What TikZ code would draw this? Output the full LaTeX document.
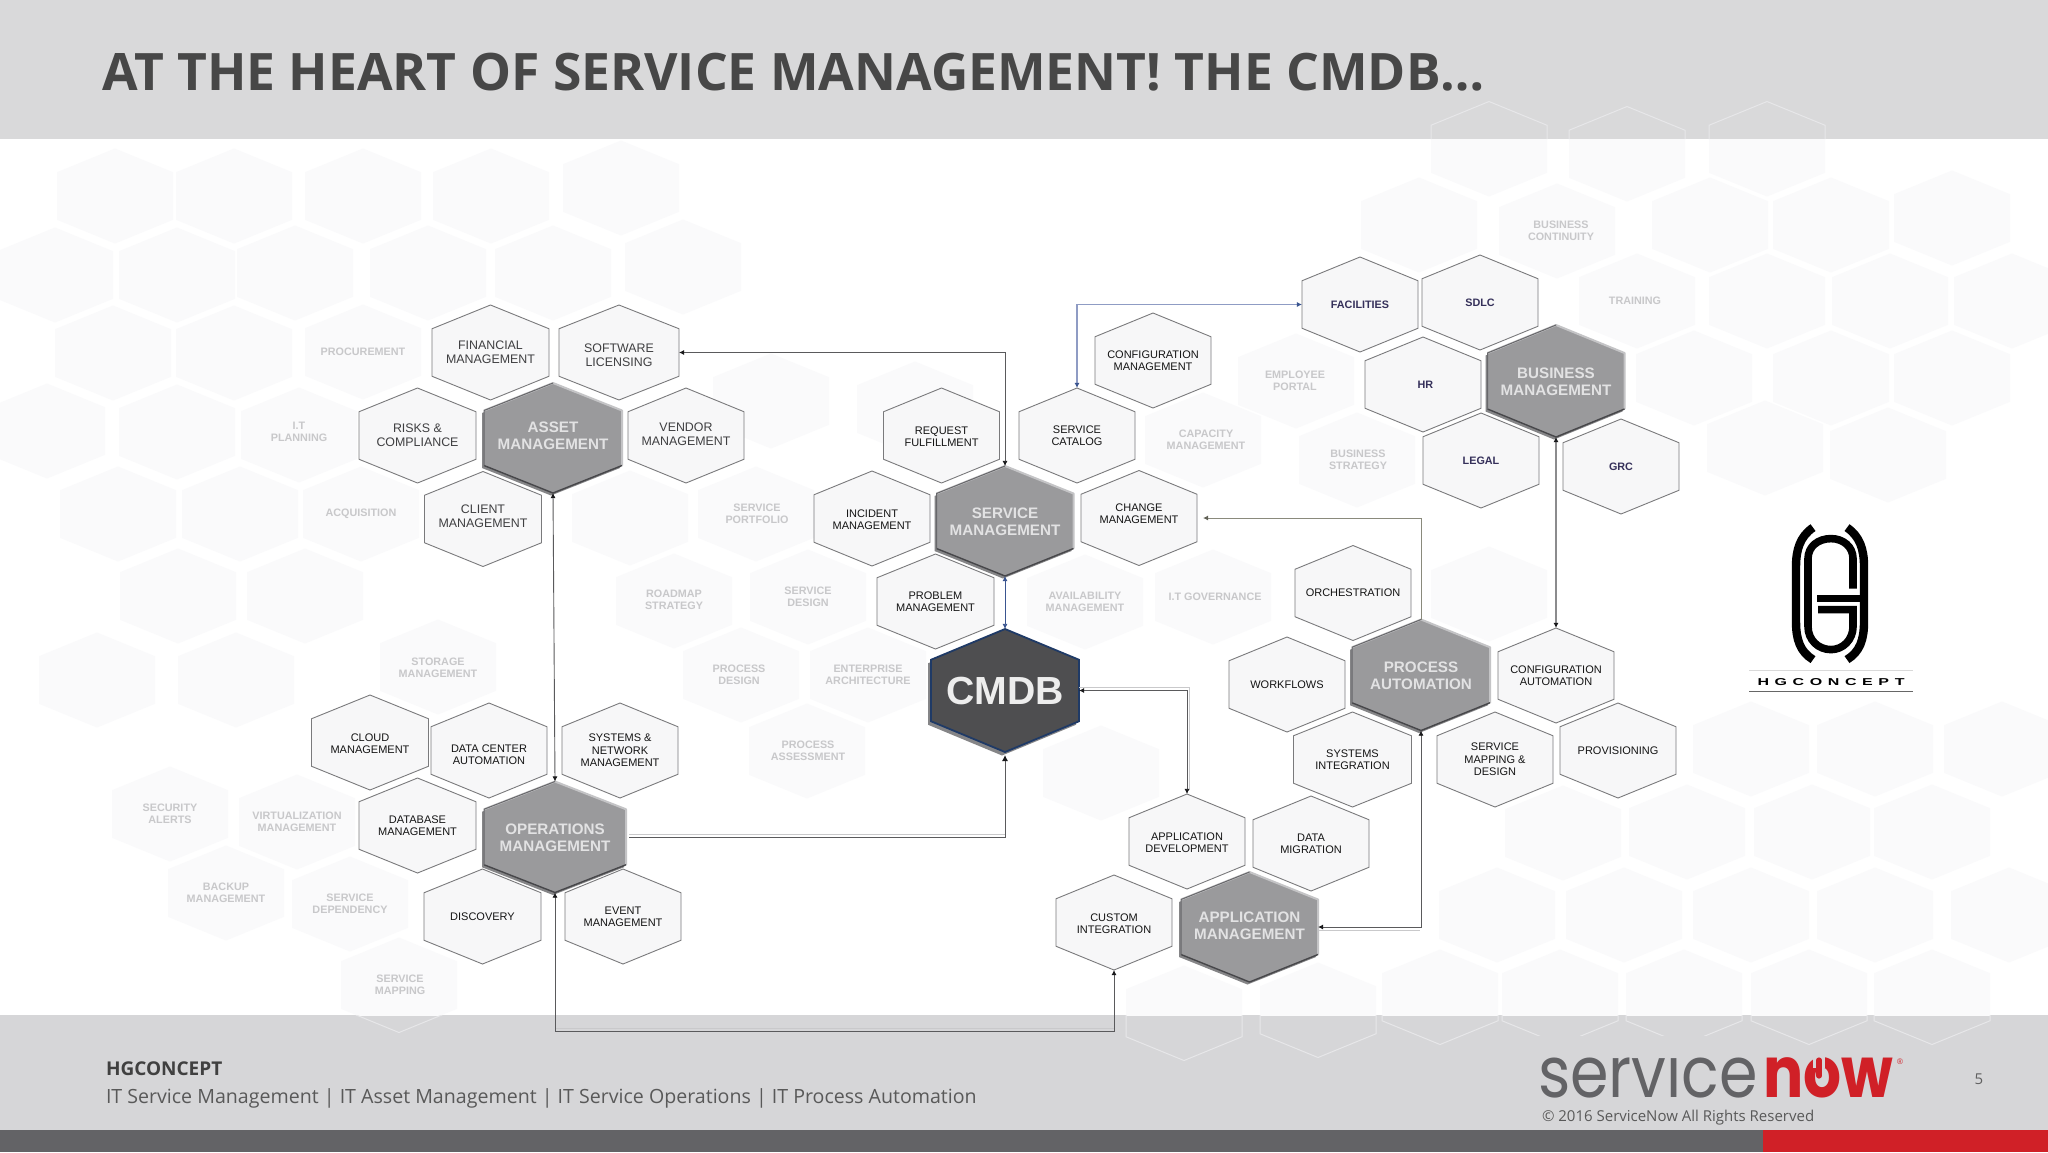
\documentclass[tikz,border=0pt]{standalone}
\usepackage{fontspec}
\setmainfont{Liberation Sans}
\newfontfamily\titlefont{Open Sans}
\newfontfamily\logofont{Poppins}
\usetikzlibrary{arrows.meta,calc}
\definecolor{bandc}{HTML}{D9D9DA}
\definecolor{footc}{HTML}{D6D6D8}
\definecolor{barc}{HTML}{636366}
\definecolor{redc}{HTML}{D02027}
\definecolor{bghex}{HTML}{FAFAFB}
\definecolor{bgline}{HTML}{E7E7E9}
\definecolor{bgtext}{HTML}{C8C8CA}
\definecolor{hexfill}{HTML}{F7F7F8}
\definecolor{hexline}{HTML}{7A7A7C}
\definecolor{hubfill}{HTML}{9A9A9C}
\definecolor{hublight}{HTML}{C4C4C6}
\definecolor{hubdark}{HTML}{47474A}
\definecolor{hubshadow}{HTML}{858587}
\definecolor{hubtext}{HTML}{E2E2E3}
\definecolor{cmdbfill}{HTML}{4E4E50}
\definecolor{cmdbline}{HTML}{1F3A66}
\definecolor{cmdbtext}{HTML}{EDEDED}
\definecolor{navytext}{HTML}{35305A}
\definecolor{asettext}{HTML}{3F3F41}
\definecolor{connc}{HTML}{5A5A5C}
\definecolor{tipc}{HTML}{1A1A1C}
\definecolor{ghostc}{HTML}{C9C9CB}
\definecolor{bluec}{HTML}{8F9CC4}
\definecolor{bluedark}{HTML}{3A5590}
\definecolor{olivec}{HTML}{8A8A7C}
\definecolor{logogray}{HTML}{636366}
\tikzset{
  x=0.5pt,y=-0.5pt,
  lblA/.style={text=asettext,font=\fontsize{6.2}{7.2}\selectfont},
  lblB/.style={text=black!92,font=\fontsize{5.5}{6.2}\selectfont},
  lblC/.style={text=navytext,font=\bfseries\fontsize{5.4}{6.2}\selectfont},
  lblBg/.style={text=bgtext,font=\bfseries\fontsize{5.4}{6.1}\selectfont,inner sep=0pt,align=center},
  lblHub/.style={text=hubtext,font=\bfseries\fontsize{7.6}{8.6}\selectfont},
  hexdraw/.style={fill=hexfill,draw=hexline,line width=0.45pt,line join=miter},
  conn/.style={draw=connc,line width=0.45pt,{Latex[length=2.6pt,width=2.6pt,color=tipc]}-{Latex[length=2.6pt,width=2.6pt,color=tipc]}},
  connone/.style={draw=connc,line width=0.45pt,-{Latex[length=3pt,width=3pt,color=tipc]}},
  connblue/.style={draw=bluec,line width=0.6pt,{Latex[length=2.6pt,width=2.6pt,color=bluedark]}-{Latex[length=2.6pt,width=2.6pt,color=bluedark]}},
  connbd/.style={draw=bluedark,line width=0.45pt,{Latex[length=2.6pt,width=2.6pt]}-{Latex[length=2.6pt,width=2.6pt]}},
  connolive/.style={draw=olivec,line width=0.5pt,-{Latex[length=2.6pt,width=2.6pt,color=olivec!70!black]}},
  ghost/.style={draw=ghostc,line width=0.5pt},
  textnode/.style={inner sep=0pt,outer sep=0pt},
}
\newcommand{\hexpath}[4]{({#1},{#2-#4/2}) -- ({#1+#3/2},{#2-#4/4}) -- ({#1+#3/2},{#2+#4/4}) -- ({#1},{#2+#4/2}) -- ({#1-#3/2},{#2+#4/4}) -- ({#1-#3/2},{#2-#4/4}) -- cycle}
% named hexagon: name,x,y,w,h,style,text,text offset down in px
\newcommand{\hexnode}[8][0]{%
  \path[hexdraw] \hexpath{#3}{#4}{#5}{#6};
  \node[inner sep=0pt,outer sep=0pt,minimum width=#5*0.5pt,minimum height=#6*0.5pt,#7] (#2) at (#3,#4) {};
  \node[inner sep=0pt,outer sep=0pt,align=center,#7] (#2text) at (#3,#4+#1) {#8};
}
% hub hexagon: name,x,y,w,h,text
\newcommand{\hubnode}[7][0.5]{%
  \path[fill=hubshadow] \hexpath{#3-2}{#4+2.5}{#5}{#6};
  \path[fill=hubfill] \hexpath{#3}{#4}{#5}{#6};
  \draw[hublight,line width=1pt,line join=round] ({#3-#5/2},{#4-#6/4}) -- ({#3},{#4-#6/2}) -- ({#3+#5/2},{#4-#6/4}) -- ({#3+#5/2},{#4+#6/4});
  \draw[hubdark,line width=0.7pt,line join=round] ({#3-#5/2},{#4+#6/4}) -- ({#3},{#4+#6/2}) -- ({#3+#5/2},{#4+#6/4});
  \draw[hubdark!60!hubfill,line width=0.5pt] ({#3-#5/2},{#4+#6/4}) -- ({#3-#5/2},{#4-#6/4}) -- ({#3},{#4-#6/2});
  \node[inner sep=0pt,outer sep=0pt,minimum width=#5*0.5pt,minimum height=#6*0.5pt] (#2) at (#3,#4) {};
  \node[inner sep=0pt,outer sep=0pt,align=center,lblHub] (#2text) at (#3,#4+#1) {#7};
}
\newcommand{\bglabel}[4]{\node[lblBg] (#1) at (#2,#3) {#4};}
\newcommand{\bglist}{115/196,234/196,363/196,491/196,621/188,
55/275,177/275,295/273,428/273,553/273,683/267,
113/353,234/353,363/352,771/401,915/409,
47/431,177/432,299/435,
118/514,240/514,361/514,630/518,756/514,
178/596,305/596,674/601,808/597,
97/680,236/680,438/667,741/675,868/675,807/751,
170/814,297/822,226/893,350/904,399/985,
1085/602,1213/597,1203/440,1296/381,1357/460,1101/773,1489/594,
1489/149,1627/154,1767/149,
1419/225,1557/231,1710/225,1831/225,1952/218,
1637/301,1767/301,1890/301,2012/301,
1694/378,1831/378,1952/378,
1765/448,1888/455,
1751/749,1875/749,2002/749,
1563/833,1687/832,1812/832,1932/832,
1497/915,1624/915,1751/915,1875/915,2009/915,
1184/1013,1318/1010,1440/997,1560/997,1684/997,1809/997,1932/997}
\begin{document}
\begin{tikzpicture}
\useasboundingbox (0,0) rectangle (2048,1152);
\fill[white] (0,0) rectangle (2048,1152);
\fill[bandc] (0,0) rectangle (2048,139);
\fill[footc] (0,1015) rectangle (2048,1130);
\fill[barc] (0,1130) rectangle (1763,1152);
\fill[redc] (1763,1130) rectangle (2048,1152);
% ---- background honeycomb
\begin{scope}
  \clip (0,139) rectangle (2048,1015);
  \foreach \hx/\hy in \bglist { \path[fill=bghex] \hexpath{\hx}{\hy}{116}{95}; }
\end{scope}
\begin{scope}
  \clip (0,0) rectangle (2048,139) (0,1015) rectangle (2048,1130);
  \foreach \hx/\hy in \bglist { \draw[bgline,line width=0.5pt] \hexpath{\hx}{\hy}{116}{95}; }
\end{scope}
% ---- background labels
\bglabel{bProc}{363}{352}{PROCUREMENT}
\bglabel{bITP}{299}{432}{I.T\\PLANNING}
\bglabel{bAcq}{361}{514}{ACQUISITION}
\bglabel{bPort}{757}{514}{SERVICE\\PORTFOLIO}
\bglabel{bRoad}{674}{600}{ROADMAP\\STRATEGY}
\bglabel{bSDes}{808}{597}{SERVICE\\DESIGN}
\bglabel{bPDes}{739}{675}{PROCESS\\DESIGN}
\bglabel{bEnt}{868}{675}{ENTERPRISE\\ARCHITECTURE}
\bglabel{bAss}{808}{751}{PROCESS\\ASSESSMENT}
\bglabel{bStor}{438}{668}{STORAGE\\MANAGEMENT}
\bglabel{bSec}{170}{814}{SECURITY\\ALERTS}
\bglabel{bVirt}{297}{822}{VIRTUALIZATION\\MANAGEMENT}
\bglabel{bBack}{226}{893}{BACKUP\\MANAGEMENT}
\bglabel{bDep}{350}{904}{SERVICE\\DEPENDENCY}
\bglabel{bMap}{400}{985}{SERVICE\\MAPPING}
\bglabel{bAvail}{1085}{602}{AVAILABILITY\\MANAGEMENT}
\bglabel{bGov}{1215}{597}{I.T GOVERNANCE}
\bglabel{bCap}{1206}{440}{CAPACITY\\MANAGEMENT}
\bglabel{bEmp}{1295}{381}{EMPLOYEE\\PORTAL}
\bglabel{bStrat}{1358}{460}{BUSINESS\\STRATEGY}
\bglabel{bCont}{1561}{231}{BUSINESS\\CONTINUITY}
\bglabel{bTrain}{1635}{301}{TRAINING}
% ---- asset cluster
\hexnode{fin}{490.5}{352.5}{117}{95}{lblA}{FINANCIAL\\MANAGEMENT}
\hexnode[2.6]{soft}{619}{352.5}{120}{95}{lblA}{SOFTWARE\\LICENSING}
\hexnode{risk}{417.5}{435.5}{117}{95}{lblA}{RISKS \&\\COMPLIANCE}
\hexnode[-1.3]{vend}{686}{435.5}{116}{95}{lblA}{VENDOR\\MANAGEMENT}
\hexnode[-2.6]{client}{483}{519}{117}{95}{lblA}{CLIENT\\MANAGEMENT}
\hubnode[-2]{asset}{553}{438}{138}{110}{ASSET\\MANAGEMENT}
% ---- operations cluster
\hexnode[1]{cloud}{370}{742.5}{117}{95}{lblB}{CLOUD\\MANAGEMENT}
\hexnode[4]{dcauto}{489}{750.5}{116}{95}{lblB}{DATA CENTER\\AUTOMATION}
\hexnode{sysnet}{620}{750.5}{116}{95}{lblB}{SYSTEMS \&\\NETWORK\\MANAGEMENT}
\hexnode{dbm}{417.5}{825.5}{117}{95}{lblB}{DATABASE\\MANAGEMENT}
\hexnode{disc}{482.5}{916.5}{117}{95}{lblB}{DISCOVERY}
\hexnode{event}{623}{916.5}{116}{95}{lblB}{EVENT\\MANAGEMENT}
\hubnode{ops}{555}{837}{142}{111}{OPERATIONS\\MANAGEMENT}
% ---- service cluster
\hexnode{cfgm}{1153}{360.5}{116}{95}{lblB}{CONFIGURATION\\MANAGEMENT}
\hexnode{cat}{1077}{435.5}{116}{95}{lblB}{SERVICE\\CATALOG}
\hexnode[1]{req}{941.5}{435.5}{116}{95}{lblB}{REQUEST\\FULFILLMENT}
\hexnode[1]{inc}{872}{518.5}{116}{95}{lblB}{INCIDENT\\MANAGEMENT}
\hexnode[-4]{chg}{1139}{518}{116}{95}{lblB}{CHANGE\\MANAGEMENT}
\hexnode{prob}{935.5}{601.5}{117}{95}{lblB}{PROBLEM\\MANAGEMENT}
\hubnode{svc}{1005}{521}{137}{110}{SERVICE\\MANAGEMENT}
% ---- business cluster
\hexnode{fac}{1360}{304.5}{116}{95}{lblC}{FACILITIES}
\hexnode{sdlc}{1480}{302.5}{116}{95}{lblC}{SDLC}
\hexnode{hr}{1423}{384.5}{116}{95}{lblC,xshift=1.2pt}{HR}
\hexnode{legal}{1481}{460.5}{116}{95}{lblC}{LEGAL}
\hexnode{grc}{1621}{466.5}{116}{95}{lblC}{GRC}
\hubnode{biz}{1556}{381}{137}{112}{BUSINESS\\MANAGEMENT}
% ---- process cluster
\hexnode{orch}{1353}{593}{116}{95}{lblB}{ORCHESTRATION}
\hexnode{work}{1287}{684.5}{116}{95}{lblB}{WORKFLOWS}
\hexnode{sysint}{1352.5}{759.5}{118}{95}{lblB}{SYSTEMS\\INTEGRATION}
\hexnode{cfga}{1556}{675.5}{116}{95}{lblB}{CONFIGURATION\\AUTOMATION}
\hexnode{smap}{1495}{759.5}{116}{95}{lblB}{SERVICE\\MAPPING \&\\DESIGN}
\hexnode{prov}{1618}{750.5}{116}{95}{lblB}{PROVISIONING}
\hubnode{proc}{1421}{675}{138}{111}{PROCESS\\AUTOMATION}
% ---- application cluster
\hexnode[1.3]{appd}{1187}{841.5}{116}{95}{lblB}{APPLICATION\\DEVELOPMENT}
\hexnode{mig}{1311}{843.5}{116}{95}{lblB}{DATA\\MIGRATION}
\hexnode[1]{cust}{1114}{922.5}{116}{95}{lblB}{CUSTOM\\INTEGRATION}
\hubnode[-1.5]{app}{1249.5}{927}{137}{110}{APPLICATION\\MANAGEMENT}
% ---- CMDB
\path[fill=hubshadow] \hexpath{1002}{694}{148}{123};
\path[fill=cmdbfill,draw=cmdbline,line width=0.9pt] \hexpath{1005}{690.5}{148}{123};
\node[inner sep=0pt,outer sep=0pt,minimum width=74pt,minimum height=61.5pt,text=cmdbtext,font=\bfseries\fontsize{19.6}{21}\selectfont] (cmdb) at (1005,690.5) {CMDB};
% ---- connectors
\draw[conn] (asset.south) -- (ops.north);
\draw[conn] (svc.north) |- (soft.east);
\draw[connbd] (svc.south) -- (cmdb.north);
\draw[ghost] ([yshift=1.3pt]cmdb.east) -| ([xshift=1.3pt,yshift=2pt]appd.north);
\draw[conn] (cmdb.east) -| (appd.north);
\draw[ghost] ([xshift=1.5pt,yshift=1.2pt]ops.east) -- ([yshift=1.2pt]ops.east -| cmdb.south);
\draw[connone] ([xshift=1.5pt]ops.east) -| ([yshift=-1.5pt]cmdb.south);
\coordinate (busR) at (1114,1031);
\draw[ghost] (1114,1028) -- (556,1028);
\draw[conn] (ops.south) |- (busR) -- (cust.south);
\draw[ghost] (1319,930) -- (1420,930);
\draw[conn] (app.east) -| (proc.south);
\coordinate (chgTip) at (1203,518);
\draw[connolive] (proc.north) |- (chgTip);
\draw[connblue] (cat.north) |- (fac.west);
\draw[conn,draw=connc!70,line width=0.7pt] (biz.south) -- (cfga.north);
% ---- title and footer text
\node[textnode,anchor=base west,text=black!72,font=\titlefont\bfseries\fontsize{25.8}{30}\selectfont] (title) at (102,90) {AT THE HEART OF SERVICE MANAGEMENT! THE CMDB…};
\node[textnode,anchor=base west,text=black!75,font=\titlefont\bfseries\fontsize{9.5}{11}\selectfont] (foot1) at (106,1075) {HGCONCEPT};
\node[textnode,anchor=base west,text=black!65,font=\titlefont\fontsize{9.8}{11}\selectfont] (foot2) at (106,1103) {IT Service Management | IT Asset Management | IT Service Operations | IT Process Automation};
\node[textnode,anchor=base west,text=black!65,font=\titlefont\fontsize{7.5}{9}\selectfont] (copy) at (1542,1121) {© 2016 ServiceNow All Rights Reserved};
\node[textnode,text=black!62,font=\titlefont\fontsize{7.5}{9}\selectfont] (pg) at (1979,1079) {5};
% ---- servicenow wordmark
\node[textnode,anchor=base west,text=logogray] (sn1) at (1538,1097) {\resizebox{110pt}{27pt}{\logofont service}};
\fill[footc] (1530,1036) rectangle (1762,1056.5);
\node[textnode,anchor=base west,text=redc] (sn2) at (1763,1097) {\resizebox{65pt}{20pt}{\logofont\bfseries now}};
\node[textnode,text=redc,font=\fontsize{4}{4}\selectfont] (sn3) at (1900,1062) {®};
\fill[footc] (1813,1054) rectangle (1825,1068);
\draw[redc,line width=2.6pt,line cap=round] (1819,1060) -- (1819,1076);
% ---- HG logo
\begin{scope}[line width=4.2pt,black,line cap=butt,yshift=-0.8pt]
  \draw (1813,526) .. controls (1800,535) and (1796,548) .. (1796,565) -- (1796,620) .. controls (1796,638) and (1800,650) .. (1813,658);
  \draw (1847,526) .. controls (1860,535) and (1864,548) .. (1864,565) -- (1864,620) .. controls (1864,638) and (1860,650) .. (1847,658);
  \draw[line width=3.8pt] (1853,587) -- (1853,557) .. controls (1853,545) and (1843,537) .. (1831,537) .. controls (1818,537) and (1808,545) .. (1808,557) -- (1808,625) .. controls (1808,638) and (1818,648) .. (1831,648) .. controls (1843,648) and (1853,638) .. (1853,625) -- (1853,608) -- (1818,608);
  \draw[line width=3.4pt] (1817,597) -- (1866,597);
\end{scope}
\node[textnode,font=\bfseries\fontsize{5}{6}\selectfont,text=black] (hgtext) at (1831,682) {\scalebox{1.6}[1]{\addfontfeature{LetterSpace=35}HGCONCEPT}};
\draw[black!60,line width=0.5pt] (1749,691) -- (1913,691);
\draw[black!15,line width=0.4pt] (1749,670) -- (1913,670);
\end{tikzpicture}
\end{document}
